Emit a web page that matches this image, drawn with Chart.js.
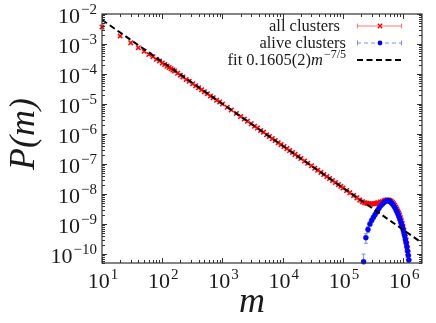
<!DOCTYPE html>
<html>
<head>
<meta charset="utf-8">
<script src="https://cdn.jsdelivr.net/npm/chart.js@4.4.1/dist/chart.umd.min.js"></script>
<style>
  html, body { margin: 0; padding: 0; background: #fff; }
</style>
</head>
<body>
<canvas id="chart" width="436" height="323"></canvas>
<script>
// all clusters (red)
const allM = [
  10, 20, 30, 40, 50, 60, 70, 80, 90, 100,
  110, 120, 130, 140, 150, 160, 180, 200, 220, 250,
  280, 320, 360, 400, 450, 500, 560, 630, 700, 800,
  900, 1000, 1200, 1400, 1700, 2000, 2300, 2600, 3000, 3400,
  3800, 4300, 4800, 5400, 6000, 6700, 7500, 8400, 9400, 10500,
  11700, 13000, 14500, 16000, 18000, 20000, 23000, 26000, 30000, 34000,
  38000, 43000, 48000, 54000, 60000, 67000, 75000, 84000, 92000, 100000,
  115000, 130000, 150000, 170000, 190000, 210000, 230000, 250000, 270000, 290000,
  310000, 330000, 350000, 370000, 390000, 420000, 450000, 480000, 510000, 540000,
  570000, 600000, 630000, 660000, 690000, 720000, 750000, 780000, 810000, 840000,
  870000, 900000, 930000, 960000, 990000, 1020000, 1050000, 1080000, 1110000, 1140000,
  1170000, 1200000, 1230000
];
const allP = [
  3.7e-3, 1.84e-3, 1.09e-3, 7.5e-4, 5.7e-4, 4.5e-4, 3.75e-4, 3.1e-4, 2.7e-4, 2.32e-4,
  2.06e-4, 1.83e-4, 1.65e-4, 1.49e-4, 1.35e-4, 1.25e-4, 1.05e-4, 9.1e-5, 7.9e-5, 6.6e-5,
  5.75e-5, 4.7e-5, 4.05e-5, 3.45e-5, 2.96e-5, 2.56e-5, 2.2e-5, 1.85e-5, 1.62e-5, 1.34e-5,
  1.16e-5, 1.0e-5, 7.8e-6, 6.3e-6, 4.85e-6, 3.82e-6, 3.17e-6, 2.65e-6, 2.18e-6, 1.81e-6,
  1.57e-6, 1.30e-6, 1.14e-6, 9.5e-7, 8.3e-7, 7.0e-7, 6.05e-7, 5.1e-7, 4.42e-7, 3.8e-7,
  3.25e-7, 2.79e-7, 2.4e-7, 2.09e-7, 1.77e-7, 1.53e-7, 1.26e-7, 1.06e-7, 8.66e-8, 7.26e-8,
  6.2e-8, 5.25e-8, 4.48e-8, 3.8e-8, 3.28e-8, 2.8e-8, 2.41e-8, 2.05e-8, 1.8e-8, 1.58e-8,
  1.3e-8, 1.1e-8, 8.9e-9, 7.5e-9, 6.3e-9, 5.5e-9, 5.1e-9, 4.9e-9, 4.75e-9, 4.6e-9,
  4.7e-9, 4.75e-9, 4.85e-9, 5.0e-9, 5.1e-9, 5.35e-9, 5.6e-9, 5.9e-9, 6.2e-9, 6.4e-9,
  6.35e-9, 6.1e-9, 5.7e-9, 5.2e-9, 4.7e-9, 4.2e-9, 3.65e-9, 3.15e-9, 2.7e-9, 2.3e-9,
  1.95e-9, 1.6e-9, 1.28e-9, 1.03e-9, 8.3e-10, 6.3e-10, 4.9e-10, 3.7e-10, 2.9e-10, 2.2e-10,
  1.55e-10, 1.1e-10, 7.5e-11
];
// relative error of each red point
const allErr = [
  0.06, 0.06, 0.06, 0.06, 0.06, 0.06, 0.06, 0.06, 0.06, 0.09,
  0.09, 0.09, 0.09, 0.09, 0.09, 0.09, 0.09, 0.09, 0.09, 0.09,
  0.09, 0.09, 0.09, 0.09, 0.09, 0.09, 0.09, 0.09, 0.09, 0.09,
  0.09, 0.06, 0.06, 0.06, 0.06, 0.06, 0.08, 0.09, 0.09, 0.09,
  0.09, 0.09, 0.09, 0.09, 0.09, 0.09, 0.09, 0.09, 0.09, 0.09,
  0.09, 0.09, 0.09, 0.09, 0.09, 0.09, 0.09, 0.09, 0.09, 0.09,
  0.09, 0.09, 0.09, 0.09, 0.09, 0.09, 0.09, 0.09, 0.09, 0.1,
  0.1, 0.12, 0.12, 0.14, 0.15, 0.15, 0.15, 0.15, 0.15, 0.14,
  0.14, 0.13, 0.12, 0.12, 0.12, 0.1, 0.1, 0.1, 0.1, 0.1,
  0.1, 0.1, 0.1, 0.1, 0.1, 0.12, 0.13, 0.15, 0.17, 0.2,
  0.22, 0.25, 0.28, 0.3, 0.3, 0.35, 0.4, 0.4, 0.45, 0.5,
  0.5, 0.55, 0.6
];

// alive clusters (blue)
const aliveM = [
  220000, 240000, 260000, 280000, 300000, 320000, 340000, 360000, 380000, 400000,
  430000, 460000, 490000, 520000, 550000, 580000, 610000, 640000, 670000, 700000,
  730000, 760000, 790000, 820000, 850000, 880000, 910000, 940000, 970000, 1000000,
  1030000, 1060000, 1090000, 1120000, 1150000, 1180000, 1210000, 1240000
];
const aliveP = [
  5.5e-11, 3.5e-10, 6.6e-10, 1.0e-9, 1.32e-9, 1.66e-9, 2.04e-9, 2.45e-9, 2.95e-9, 3.47e-9,
  4.17e-9, 4.79e-9, 5.37e-9, 5.82e-9, 6.0e-9, 5.9e-9, 5.5e-9, 5.0e-9, 4.57e-9, 3.98e-9,
  3.47e-9, 2.95e-9, 2.5e-9, 2.1e-9, 1.74e-9, 1.45e-9, 1.17e-9, 9.5e-10, 7.8e-10, 6.3e-10,
  5.0e-10, 4.0e-10, 3.0e-10, 2.35e-10, 1.75e-10, 1.26e-10, 9.0e-11, 6.3e-11
];
const aliveErr = [
  0.8, 0.35, 0.22, 0.15, 0.12, 0.1, 0.08, 0.07, 0.06, 0.05,
  0.05, 0.05, 0.05, 0.05, 0.05, 0.05, 0.05, 0.05, 0.05, 0.05,
  0.05, 0.05, 0.06, 0.06, 0.07, 0.08, 0.08, 0.09, 0.1, 0.1,
  0.12, 0.13, 0.15, 0.17, 0.2, 0.25, 0.3, 0.4
];

// fit 0.1605 m^(-7/5), end points
const fitM = [10, 2.05e6];
const fitP = [6.39e-3, 2.34e-10];

const xTickExp = [1, 2, 3, 4, 5, 6];
const yTickExp = [-2, -3, -4, -5, -6, -7, -8, -9, -10];

const SERIF = '"Liberation Serif", "DejaVu Serif", serif';
const TEXT = '#1a1a1a';

const pts = (xs, ys) => xs.map((x, i) => ({ x: x, y: ys[i] }));

function drawErrBars(chart, ds) {
  const ctx = chart.ctx;
  const xs = chart.scales.x, ys = chart.scales.y;
  const a = chart.chartArea;
  ctx.save();
  ctx.beginPath();
  ctx.rect(a.left, a.top, a.right - a.left, a.bottom - a.top);
  ctx.clip();
  ctx.strokeStyle = ds.errColor;
  ctx.lineWidth = 1;
  ds.data.forEach((p, i) => {
    const e = ds.errors[i];
    const x = xs.getPixelForValue(p.x);
    const y1 = ys.getPixelForValue(p.y * (1 - e));
    const y2 = ys.getPixelForValue(p.y * (1 + e));
    ctx.beginPath();
    ctx.moveTo(x, y1); ctx.lineTo(x, y2);
    ctx.moveTo(x - 2, y1); ctx.lineTo(x + 2, y1);
    ctx.moveTo(x - 2, y2); ctx.lineTo(x + 2, y2);
    ctx.stroke();
  });
  ctx.restore();
}

function power(ctx, x, base, exp, align) {
  ctx.font = '22px ' + SERIF;
  const w1 = ctx.measureText('10').width;
  ctx.font = '15px ' + SERIF;
  const w2 = ctx.measureText(exp).width;
  const start = align === 'right' ? x - w1 - w2 - 1 : x - (w1 + w2 + 1) / 2;
  ctx.textAlign = 'left';
  ctx.font = '22px ' + SERIF;
  ctx.fillText('10', start, base);
  ctx.font = '15px ' + SERIF;
  ctx.fillText(exp, start + w1 + 1, base - 9);
}

const decor = {
  id: 'decor',
  beforeDatasetDraw(chart, args) {
    const ds = chart.data.datasets[args.index];
    if (ds.errors) drawErrBars(chart, ds);
  },
  afterDraw(chart) {
    const ctx = chart.ctx;
    const xs = chart.scales.x, ys = chart.scales.y;
    const { left, right, top, bottom } = chart.chartArea;
    ctx.save();
    // frame
    ctx.strokeStyle = '#333';
    ctx.lineWidth = 1.2;
    ctx.strokeRect(left, top, right - left, bottom - top);
    ctx.lineWidth = 1;
    ctx.beginPath();
    for (let n = 1; n <= 6; n++) {
      for (let k = 1; k <= 9; k++) {
        const v = k * Math.pow(10, n);
        if (v < xs.min || v > xs.max) continue;
        const px = Math.round(xs.getPixelForValue(v)) + 0.5;
        const len = k === 1 ? 5 : 3;
        ctx.moveTo(px, bottom); ctx.lineTo(px, bottom - len);
        ctx.moveTo(px, top); ctx.lineTo(px, top + len);
      }
    }
    for (let n = -11; n <= -2; n++) {
      for (let k = 1; k <= 9; k++) {
        const v = k * Math.pow(10, n);
        if (v < ys.min * 0.999 || v > ys.max * 1.001) continue;
        const py = Math.round(ys.getPixelForValue(v)) + 0.5;
        const len = k === 1 ? 5 : 3;
        ctx.moveTo(left, py); ctx.lineTo(left + len, py);
        ctx.moveTo(right, py); ctx.lineTo(right - len, py);
      }
    }
    ctx.stroke();

    // tick labels
    ctx.fillStyle = TEXT;
    ctx.textBaseline = 'alphabetic';
    yTickExp.forEach(e => {
      const py = ys.getPixelForValue(Math.pow(10, e));
      power(ctx, 97, py + 9, '\u2212' + Math.abs(e), 'right');
    });
    xTickExp.forEach(e => {
      const px = xs.getPixelForValue(Math.pow(10, e));
      power(ctx, px + 1, 288, String(e), 'center');
    });

    // axis titles
    ctx.font = 'italic 36px ' + SERIF;
    ctx.textAlign = 'center';
    ctx.fillText('m', 252, 312);
    ctx.save();
    ctx.translate(34, 134);
    ctx.rotate(-Math.PI / 2);
    ctx.fillText('P(m)', 0, 0);
    ctx.restore();

    // legend
    const lx1 = 357, lx2 = 402, lxm = 380;
    const rows = [26, 43, 60];
    ctx.font = '16.5px ' + SERIF;
    ctx.textAlign = 'right';
    ctx.fillText('all clusters', 340, rows[0] + 5);
    ctx.fillText('alive clusters', 346, rows[1] + 5);
    // fit label pieces
    const t1 = 'fit 0.1605(2)';
    const w1 = ctx.measureText(t1).width;
    ctx.font = 'italic 16.5px ' + SERIF;
    const w2 = ctx.measureText('m').width;
    ctx.font = '12px ' + SERIF;
    const sup = '\u22127/5';
    const w3 = ctx.measureText(sup).width;
    let sx = 346 - (w1 + w2 + w3 + 1);
    ctx.textAlign = 'left';
    ctx.font = '16.5px ' + SERIF;
    ctx.fillText(t1, sx, rows[2] + 5);
    ctx.font = 'italic 16.5px ' + SERIF;
    ctx.fillText('m', sx + w1, rows[2] + 5);
    ctx.font = '12px ' + SERIF;
    ctx.fillText(sup, sx + w1 + w2 + 1, rows[2] - 2);

    // legend samples
    ctx.lineWidth = 1;
    ctx.strokeStyle = 'rgba(255,90,90,0.8)';
    ctx.beginPath();
    ctx.moveTo(lx1, rows[0]); ctx.lineTo(lx2, rows[0]);
    ctx.moveTo(lx1 + 0.5, rows[0] - 2.5); ctx.lineTo(lx1 + 0.5, rows[0] + 2.5);
    ctx.moveTo(lx2 - 0.5, rows[0] - 2.5); ctx.lineTo(lx2 - 0.5, rows[0] + 2.5);
    ctx.stroke();
    ctx.strokeStyle = 'rgb(255,0,0)';
    ctx.lineWidth = 1.3;
    ctx.beginPath();
    ctx.moveTo(lxm - 2.2, rows[0] - 2.2); ctx.lineTo(lxm + 2.2, rows[0] + 2.2);
    ctx.moveTo(lxm - 2.2, rows[0] + 2.2); ctx.lineTo(lxm + 2.2, rows[0] - 2.2);
    ctx.stroke();

    ctx.lineWidth = 1;
    ctx.strokeStyle = 'rgba(100,120,255,0.85)';
    ctx.setLineDash([4, 3]);
    ctx.beginPath();
    ctx.moveTo(lx1, rows[1]); ctx.lineTo(lx2, rows[1]);
    ctx.stroke();
    ctx.setLineDash([]);
    ctx.beginPath();
    ctx.moveTo(lx1 + 0.5, rows[1] - 2.5); ctx.lineTo(lx1 + 0.5, rows[1] + 2.5);
    ctx.moveTo(lx2 - 0.5, rows[1] - 2.5); ctx.lineTo(lx2 - 0.5, rows[1] + 2.5);
    ctx.stroke();
    ctx.fillStyle = 'rgb(0,0,255)';
    ctx.beginPath();
    ctx.arc(lxm, rows[1], 2.4, 0, Math.PI * 2);
    ctx.fill();

    ctx.strokeStyle = '#000';
    ctx.lineWidth = 2;
    ctx.setLineDash([6, 3.5]);
    ctx.beginPath();
    ctx.moveTo(lx1, rows[2]); ctx.lineTo(lx2, rows[2]);
    ctx.stroke();
    ctx.restore();
  }
};

new Chart(document.getElementById('chart'), {
  type: 'scatter',
  data: {
    datasets: [
      {
        label: 'fit 0.1605(2)m^-7/5',
        type: 'line',
        data: pts(fitM, fitP),
        borderColor: '#000',
        borderWidth: 2,
        borderDash: [6, 3.5],
        pointRadius: 0,
        fill: false,
        order: 0
      },
      {
        label: 'alive clusters',
        data: pts(aliveM, aliveP),
        errors: aliveErr,
        errColor: 'rgba(100,120,255,0.85)',
        pointStyle: 'circle',
        pointRadius: 2.5,
        backgroundColor: 'rgb(0,0,255)',
        borderColor: 'rgb(0,0,255)',
        borderWidth: 0.5,
        clip: 4,
        order: 1
      },
      {
        label: 'all clusters',
        data: pts(allM, allP),
        errors: allErr,
        errColor: 'rgba(255,80,80,0.8)',
        pointStyle: 'crossRot',
        pointRadius: 3.2,
        borderColor: 'rgb(255,0,0)',
        borderWidth: 1.4,
        clip: 4,
        order: 2
      }
    ]
  },
  options: {
    responsive: false,
    animation: false,
    devicePixelRatio: 1,
    layout: { padding: { left: 102, right: 14, top: 14, bottom: 60 } },
    plugins: { legend: { display: false }, tooltip: { enabled: false } },
    scales: {
      x: { type: 'logarithmic', min: 10, max: 2.05e6, display: false },
      y: { type: 'logarithmic', min: 5e-11, max: 1e-2, display: false }
    }
  },
  plugins: [decor]
});
</script>
</body>
</html>
